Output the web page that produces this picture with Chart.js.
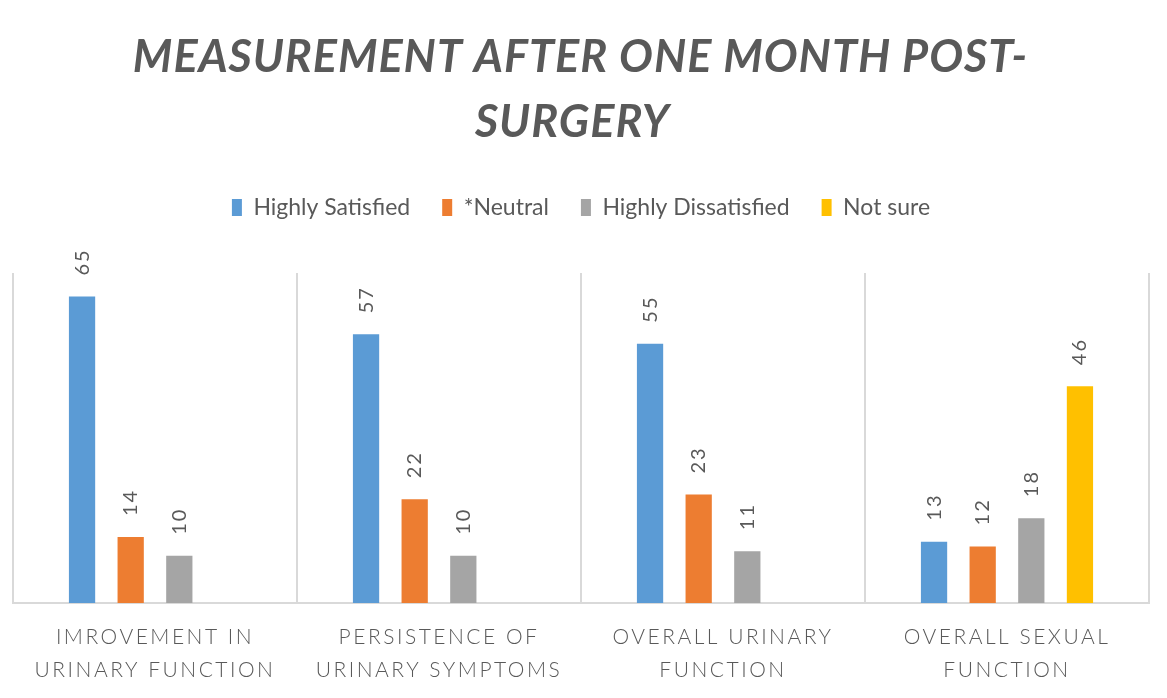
<!DOCTYPE html>
<html>
<head>
<meta charset="utf-8">
<script src="https://cdn.jsdelivr.net/npm/chart.js@4.4.1/dist/chart.umd.min.js"></script>
<style>
  html, body { margin: 0; padding: 0; background: #ffffff; }
  #wrap { width: 1167px; height: 698px; }
</style>
</head>
<body>
<div id="wrap"><canvas id="surgery_chart"></canvas></div>
<script>
// chart data
const titleLines = ['MEASUREMENT AFTER ONE MONTH POST-', 'SURGERY'];
const categories = [
  ['IMROVEMENT IN', 'URINARY FUNCTION'],
  ['PERSISTENCE OF', 'URINARY SYMPTOMS'],
  ['OVERALL URINARY', 'FUNCTION'],
  ['OVERALL SEXUAL', 'FUNCTION']
];
const seriesNames = ['Highly Satisfied', '*Neutral', 'Highly Dissatisfied', 'Not sure'];
const highlySatisfied = [65, 57, 55, 13];
const neutral = [14, 22, 23, 12];
const highlyDissatisfied = [10, 10, 11, 18];
const notSure = [null, null, null, 46];
const seriesColors = ['#5B9BD5', '#ED7D31', '#A5A5A5', '#FFC000'];

const textGrey = '#595959';

/** draws the spaced-out title and the rotated value labels */
const decorPlugin = {
  id: 'decor',
  beforeLayout: function(chart) {
    // extra room between legend and plot area
    var lg = chart.legend;
    if (lg && !lg._extraGap) {
      var fit = lg.fit;
      lg.fit = function() {
        fit.call(this);
        if (this.isHorizontal()) this.height += 44;
      };
      lg._extraGap = true;
    }
  },
  afterDatasetsDraw: function(chart) {
    var ctx = chart.ctx;
    chart.data.datasets.forEach(function(ds, i) {
      var meta = chart.getDatasetMeta(i);
      meta.data.forEach(function(bar, j) {
        var v = ds.data[j];
        if (v === null || v === undefined) return;
        ctx.save();
        ctx.translate(bar.x, bar.y - 21);
        ctx.rotate(-Math.PI / 2);
        ctx.font = '20px Lato';
        ctx.letterSpacing = '2px';
        ctx.fillStyle = textGrey;
        ctx.textAlign = 'left';
        ctx.textBaseline = 'middle';
        ctx.fillText(String(v), 0, 0);
        ctx.restore();
      });
    });
    // x tick labels are drawn after this hook (ticks.z = 1), give them spacing
    ctx.letterSpacing = '2.5px';
  },
  afterDraw: function(chart) {
    var ctx = chart.ctx;
    ctx.letterSpacing = '0px';
    ctx.save();
    ctx.font = 'italic bold 45px Lato';
    ctx.letterSpacing = '1px';
    ctx.fillStyle = textGrey;
    ctx.textAlign = 'center';
    ctx.textBaseline = 'alphabetic';
    var cx = chart.width / 2;
    ctx.fillText(titleLines[0], cx - 3, 72);
    ctx.fillText(titleLines[1], cx - 11, 137);
    ctx.restore();
  }
};

const datasetValues = [highlySatisfied, neutral, highlyDissatisfied, notSure];
const datasets = seriesNames.map(function(name, i) {
  return {
    label: name,
    data: datasetValues[i],
    backgroundColor: seriesColors[i],
    borderWidth: 0,
    barPercentage: 0.54,
    categoryPercentage: 0.685
  };
});

const config = {
  type: 'bar',
  data: { labels: categories, datasets: datasets },
  options: {
    responsive: true,
    maintainAspectRatio: false,
    animation: false,
    layout: { padding: { top: 164, left: 13, right: 18, bottom: 0 } },
    plugins: {
      title: { display: false },
      tooltip: { enabled: false },
      legend: {
        position: 'top',
        labels: {
          boxWidth: 10,
          boxHeight: 17,
          color: textGrey,
          padding: 32,
          font: { family: 'Lato', size: 23 }
        }
      }
    },
    scales: {
      x: {
        offset: true,
        grid: { display: true, offset: true, color: '#D9D9D9', lineWidth: 2, drawTicks: false },
        border: { display: true, color: '#D9D9D9', width: 2 },
        afterFit: function(scale) { scale.height = 95; },
        ticks: {
          z: 1,
          color: textGrey,
          padding: 18,
          autoSkip: false,
          maxRotation: 0,
          font: { family: 'Lato', size: 21, weight: '300', lineHeight: 1.57 }
        }
      },
      y: {
        display: false,
        min: 0,
        max: 70
      }
    }
  },
  plugins: [decorPlugin]
};

const surgery_chart = new Chart(document.getElementById('surgery_chart'), config);
</script>
</body>
</html>
